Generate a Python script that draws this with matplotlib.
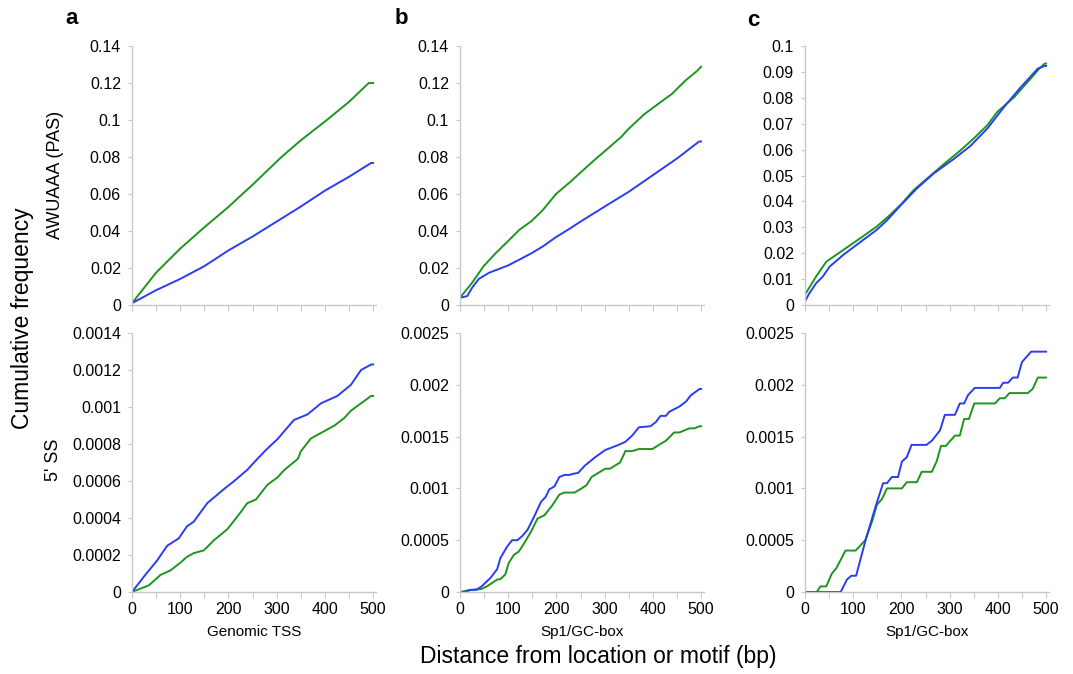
import matplotlib.pyplot as plt
import numpy as np

plt.rcParams['font.family'] = ['Liberation Sans', 'DejaVu Sans']

BLUE = '#2a3df0'
GREEN = '#1c961e'

# Panel a, PAS (AWUAAA), genomic TSS
a_top_x_g = [0, 50, 100, 150, 200, 229, 250, 300, 310, 350, 404, 450, 491, 500]
a_top_g = [0.001, 0.0175, 0.0305, 0.042, 0.053, 0.06, 0.065, 0.0775, 0.08, 0.089, 0.1, 0.1098,
           0.12, 0.12]
a_top_x_b = [0, 50, 100, 150, 200, 250, 300, 350, 400, 450, 496, 500]
a_top_b = [0.001, 0.008, 0.0141, 0.021, 0.0295, 0.037, 0.0451, 0.0532, 0.0618, 0.0693, 0.0768,
           0.0768]

# Panel a, 5' SS
a_bot_x_b = [0, 28, 52, 73, 97, 114, 128, 156, 191, 212, 239, 253, 277, 302, 316, 336, 364,
             392, 426, 454, 475, 496, 500]
a_bot_b = [0, 0.000094, 0.00017, 0.00025, 0.00029, 0.000355, 0.00038, 0.00048, 0.000557, 0.0006,
           0.00066, 0.0007, 0.000766, 0.000827, 0.00087, 0.00093, 0.00096, 0.00102, 0.00106,
           0.00112, 0.0012, 0.00123, 0.00123]
a_bot_x_g = [0, 35, 59, 80, 101, 114, 128, 149, 170, 198, 225, 239, 257, 281, 302, 316, 344, 350,
             371, 392, 420, 440, 454, 475, 496, 500]
a_bot_g = [0, 0.000036, 0.000092, 0.000117, 0.00016, 0.00019, 0.00021, 0.000225, 0.00028, 0.00034,
           0.00043, 0.00048, 0.0005, 0.00058, 0.00062, 0.00066, 0.00072, 0.00076, 0.00083, 0.00086,
           0.0009, 0.00094, 0.00098, 0.00102, 0.00106, 0.00106]

# Panel b, PAS, Sp1/GC-box
b_top_x_g = [0, 25, 49, 74, 99, 123, 149, 172, 199, 229, 250, 278, 300, 334, 350, 383, 411, 439,
             467, 492, 500]
b_top_g = [0.0039, 0.012, 0.021, 0.028, 0.0344, 0.0406, 0.0455, 0.0514, 0.06, 0.0666, 0.0716,
           0.0782, 0.0831, 0.0908, 0.0953, 0.1033, 0.1087, 0.114, 0.1212, 0.1266, 0.1288]
b_top_x_b = [0, 15, 25, 39, 60, 99, 123, 149, 172, 199, 229, 250, 300, 350, 400, 450, 481, 496, 500]
b_top_b = [0.0039, 0.0048, 0.0093, 0.0141, 0.0174, 0.0213, 0.0245, 0.0281, 0.0317, 0.0367, 0.0415,
           0.0451, 0.0532, 0.0612, 0.0702, 0.0792, 0.0854, 0.0884, 0.0884]

# Panel b, 5' SS
b_bot_x_b = [0, 10, 21, 35, 45, 63, 77, 84, 98, 108, 119, 129, 140, 154, 168, 178, 185, 196, 206,
             217, 227, 234, 245, 259, 280, 301, 329, 343, 357, 371, 395, 406, 416, 427, 434, 455,
             469, 479, 497, 500]
b_bot_b = [0, 0, 0.00002, 0.000025, 0.000055, 0.000135, 0.00022, 0.00033, 0.00044, 0.0005, 0.0005,
           0.00054, 0.0006, 0.00073, 0.00087, 0.00092, 0.00099, 0.00102, 0.00111, 0.00113, 0.00113,
           0.00114, 0.00115, 0.00122, 0.0013, 0.00137, 0.00142, 0.00145, 0.00151, 0.00159, 0.0016,
           0.00164, 0.0017, 0.0017, 0.00174, 0.00179, 0.00184, 0.0019, 0.00196, 0.00196]
b_bot_x_g = [0, 17, 31, 45, 56, 77, 84, 94, 101, 112, 122, 133, 147, 161, 175, 192, 206, 217, 238,
             252, 262, 273, 301, 311, 332, 343, 357, 371, 399, 416, 427, 444, 455, 476, 486, 497, 500]
b_bot_g = [0, 0.000016, 0.00002, 0.00003, 0.000055, 0.00012, 0.000125, 0.00017, 0.00028, 0.00036,
           0.00039, 0.00047, 0.00058, 0.00071, 0.00074, 0.00084, 0.00094, 0.00096, 0.00096, 0.001,
           0.00103, 0.00111, 0.00119, 0.00119, 0.00125, 0.00136, 0.00136, 0.00138, 0.00138, 0.00143,
           0.00146, 0.00154, 0.00154, 0.00158, 0.00158, 0.0016, 0.0016]

# Panel c, PAS, Sp1/GC-box
c_top_x_g = [0, 23, 44, 79, 114, 148, 176, 201, 225, 253, 288, 323, 350, 378, 399, 434, 465, 486,
             497, 500]
c_top_g = [0.004, 0.011, 0.0167, 0.0212, 0.0257, 0.0302, 0.0347, 0.0392, 0.0443, 0.0488, 0.0544,
           0.0598, 0.0643, 0.0694, 0.0746, 0.0803, 0.0868, 0.0913, 0.0932, 0.0932]
c_top_x_b = [0, 9, 23, 37, 51, 79, 114, 148, 169, 201, 232, 267, 308, 343, 378, 413, 448, 483, 497,
             500]
c_top_b = [0.0015, 0.0045, 0.0084, 0.011, 0.0148, 0.0193, 0.0242, 0.0289, 0.0325, 0.039, 0.045,
           0.0508, 0.0563, 0.0614, 0.0681, 0.0765, 0.0842, 0.0913, 0.0923, 0.0923]

# Panel c, 5' SS
c_bot_x_b = [0, 74, 87, 96, 106, 125, 146, 162, 170, 180, 193, 201, 211, 221, 252, 263, 280, 290,
             311, 321, 330, 338, 352, 404, 411, 421, 431, 441, 450, 469, 500]
c_bot_b = [0, 0, 0.00012, 0.000157, 0.000157, 0.00049, 0.00082, 0.00105, 0.00105, 0.00111, 0.00111,
           0.00126, 0.0013, 0.00142, 0.00142, 0.00146, 0.00156, 0.00171, 0.00171, 0.00182, 0.00182,
           0.0019, 0.00197, 0.00197, 0.00202, 0.00202, 0.00207, 0.00207, 0.00222, 0.00232, 0.00232]
c_bot_x_g = [0, 24, 32, 44, 56, 65, 84, 105, 125, 139, 149, 160, 170, 201, 211, 232, 242, 263, 273,
             282, 292, 311, 321, 330, 340, 351, 394, 404, 414, 424, 462, 472, 483, 500]
c_bot_g = [0, 0, 0.000054, 0.000054, 0.00018, 0.00023, 0.0004, 0.0004, 0.0005, 0.00068, 0.00084,
           0.0009, 0.001, 0.001, 0.00106, 0.00106, 0.00116, 0.00116, 0.00126, 0.00141, 0.00141,
           0.00151, 0.00151, 0.00167, 0.00167, 0.00182, 0.00182, 0.00187, 0.00187, 0.00192, 0.00192,
           0.00196, 0.00207, 0.00207]

panels = [
    # (left px, bottom px, x_blue, blue, x_green, green, ymax, ystep, xlabel)
    (132, 305, a_top_x_b, a_top_b, a_top_x_g, a_top_g, 0.14, 0.02, None),
    (132, 592, a_bot_x_b, a_bot_b, a_bot_x_g, a_bot_g, 0.0014, 0.0002, 'Genomic TSS'),
    (460, 305, b_top_x_b, b_top_b, b_top_x_g, b_top_g, 0.14, 0.02, None),
    (460, 592, b_bot_x_b, b_bot_b, b_bot_x_g, b_bot_g, 0.0025, 0.0005, 'Sp1/GC-box'),
    (805, 305, c_top_x_b, c_top_b, c_top_x_g, c_top_g, 0.1, 0.01, None),
    (805, 592, c_bot_x_b, c_bot_b, c_bot_x_g, c_bot_g, 0.0025, 0.0005, 'Sp1/GC-box'),
]

W, H = 1073, 674
fig = plt.figure(figsize=(W / 100, H / 100), dpi=100)

for left, bottom, xb, yb, xg, yg, ymax, ystep, xlabel in panels:
    ax = fig.add_axes([left / W, 1 - bottom / H, 244 / W, 259 / H])
    ax.plot(xg, yg, color=GREEN, lw=1.4)
    ax.plot(xb, yb, color=BLUE, lw=1.4)
    ax.set_xlim(0, 506)
    ax.set_ylim(0, ymax)
    yt = [round(v, 6) for v in np.arange(0, ymax + ystep / 2, ystep)]
    ax.set_yticks(yt)
    ax.set_yticklabels([f'{v:g}' for v in yt])
    xt = list(range(0, 501, 50))
    ax.set_xticks(xt)
    if xlabel:
        ax.set_xticklabels([str(v) if v % 100 == 0 else '' for v in xt])
        ax.set_xlabel(xlabel, fontsize=11, labelpad=6)
    else:
        ax.set_xticklabels([])
    for s in ['top', 'right']:
        ax.spines[s].set_visible(False)
    for s in ['left', 'bottom']:
        ax.spines[s].set_color('#c8c8c8')
        ax.spines[s].set_linewidth(1.0)
    ax.tick_params(axis='x', length=4, color='#c8c8c8', labelsize=11.5, pad=3)
    ax.tick_params(axis='y', length=3, color='#c8c8c8', labelsize=11.5, pad=5)

for letter, xp, yp in [('a', 72, 19), ('b', 401, 18), ('c', 753, 20)]:
    fig.text(xp / W, 1 - yp / H, letter, fontsize=16, fontweight='bold', ha='center', va='center')

fig.text(23 / W, 1 - 318 / H, 'Cumulative frequency', fontsize=16.5, rotation=90,
         ha='center', va='center')
fig.text(55 / W, 1 - 175 / H, 'AWUAAA (PAS)', fontsize=13, rotation=90, ha='center', va='center')
fig.text(53 / W, 1 - 460 / H, "5' SS", fontsize=13, rotation=90, ha='center', va='center')
fig.text(598 / W, 1 - 657 / H, 'Distance from location or motif (bp)', fontsize=16.5,
         ha='center', va='center')

fig.savefig('out.png', dpi=100)
